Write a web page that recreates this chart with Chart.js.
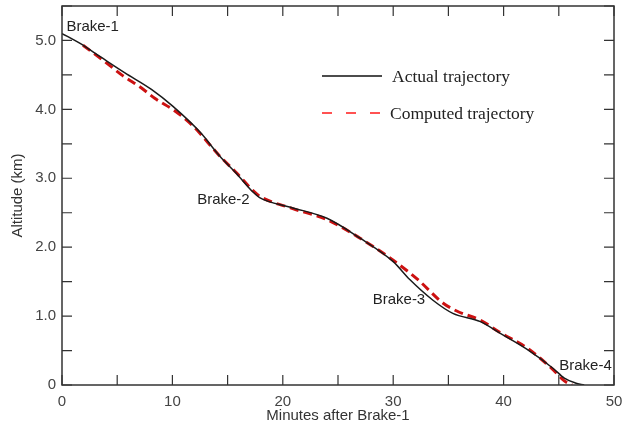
<!DOCTYPE html>
<html>
<head>
<meta charset="utf-8">
<script src="https://cdn.jsdelivr.net/npm/chart.js@4"></script>
<style>
body { margin: 0; background: #fff; }
</style>
</head>
<body>
<canvas id="chart1" width="639" height="430"></canvas>
<script>
// minutes after Brake-1 / altitude in km
var actualX = [0, 1.6, 3.5, 5.7, 8.1, 10, 12.5, 14.3, 15.8, 17.3, 17.9, 20.7, 24, 27, 30, 31.5, 33.6, 35.4, 37.9, 39.7, 42.1, 44.5, 45.5, 46.5, 47.3];
var actualY = [5.1, 4.96, 4.76, 4.53, 4.29, 4.05, 3.67, 3.32, 3.07, 2.80, 2.72, 2.58, 2.42, 2.13, 1.79, 1.53, 1.23, 1.04, 0.92, 0.75, 0.52, 0.24, 0.10, 0.03, 0];
var computedX = [1.9, 3.9, 5.5, 7.2, 8.4, 10.2, 11.8, 14.3, 15.8, 17.3, 17.9, 20.9, 24, 27, 30, 32.3, 34.5, 35.8, 37.9, 39.7, 42.1, 44.5, 45.5, 46.2];
var computedY = [4.93, 4.69, 4.49, 4.31, 4.16, 3.98, 3.77, 3.32, 3.08, 2.82, 2.74, 2.56, 2.40, 2.13, 1.81, 1.52, 1.19, 1.07, 0.94, 0.76, 0.54, 0.22, 0.06, 0];
var seriesNames = ["Actual trajectory", "Computed trajectory"];

// event labels: text, minutes, km, alignment
var brakeNames = ["Brake-1", "Brake-2", "Brake-3", "Brake-4"];
var brakeX = [0.4, 17.0, 32.9, 49.8];
var brakeY = [5.2, 2.69, 1.23, 0.28];
var brakeAlign = ["left", "right", "right", "right"];

function toPoints(xs, ys) {
	var pts = [];
	for (var i = 0; i < xs.length; i++) pts.push({x: xs[i], y: ys[i]});
	return pts;
}

var sansFont = "'Liberation Sans', Arial, sans-serif";
var serifFont = "'Liberation Serif', 'Times New Roman', serif";

function noPad(s) {
	s.paddingTop = 0; s.paddingBottom = 0;
	s.paddingLeft = 0; s.paddingRight = 0;
}

var framePlugin = {
	id: 'frame',
	afterDatasetsDraw: function(chart) {
		var ctx = chart.ctx;
		var a = chart.chartArea;
		var xs = chart.scales.x, ys = chart.scales.y;
		ctx.save();
		ctx.strokeStyle = '#333';
		ctx.lineWidth = 1.5;
		ctx.strokeRect(a.left, a.top, a.right - a.left, a.bottom - a.top);
		ctx.lineWidth = 1.2;
		ctx.beginPath();
		xs.ticks.forEach(function(t) {
			var px = xs.getPixelForValue(t.value);
			ctx.moveTo(px, a.bottom); ctx.lineTo(px, a.bottom - 10);
			ctx.moveTo(px, a.top); ctx.lineTo(px, a.top + 10);
		});
		ys.ticks.forEach(function(t) {
			var py = ys.getPixelForValue(t.value);
			ctx.moveTo(a.left, py); ctx.lineTo(a.left + 10, py);
			ctx.moveTo(a.right, py); ctx.lineTo(a.right - 10, py);
		});
		ctx.stroke();

		// brake labels
		ctx.fillStyle = '#222';
		ctx.font = '15px ' + sansFont;
		ctx.textBaseline = 'middle';
		for (var i = 0; i < brakeNames.length; i++) {
			ctx.textAlign = brakeAlign[i];
			ctx.fillText(brakeNames[i], xs.getPixelForValue(brakeX[i]), ys.getPixelForValue(brakeY[i]));
		}

		// legend
		var lx = a.left + 260, ly = a.top + 70;
		chart.data.datasets.forEach(function(ds, i) {
			var y = ly + i * 37;
			ctx.beginPath();
			ctx.lineWidth = 1.5;
			ctx.strokeStyle = i === 0 ? '#111' : '#ff1a1a';
			ctx.setLineDash(i === 0 ? [] : [10, 14]);
			ctx.moveTo(lx, y); ctx.lineTo(lx + 60, y);
			ctx.stroke();
			ctx.setLineDash([]);
			ctx.fillStyle = '#222';
			ctx.textAlign = 'left';
			ctx.font = '17.5px ' + serifFont;
			ctx.fillText(ds.label, lx + (i === 0 ? 70 : 68), y + 1);
		});
		ctx.restore();
	}
};

var ctx = document.getElementById("chart1").getContext("2d");
new Chart(ctx, {
	type: 'line',
	data: {
		datasets: [{
			label: seriesNames[0],
			data: toPoints(actualX, actualY),
			borderColor: '#1a1a1a',
			borderWidth: 1.5,
			pointRadius: 0,
			cubicInterpolationMode: 'monotone'
		}, {
			label: seriesNames[1],
			data: toPoints(computedX, computedY),
			borderColor: '#cc1111',
			borderWidth: 3,
			borderDash: [9, 5],
			pointRadius: 0,
			cubicInterpolationMode: 'monotone'
		}]
	},
	options: {
		responsive: false,
		animation: false,
		events: [],
		layout: {padding: {left: 0, right: 25, top: 6, bottom: 0}},
		plugins: {legend: {display: false}, tooltip: {enabled: false}},
		scales: {
			x: {
				type: 'linear',
				min: 0, max: 50,
				afterFit: function(s) { s.height = 45; noPad(s); },
				grid: {display: false, drawTicks: false},
				border: {display: false},
				ticks: {
					stepSize: 5,
					autoSkip: false,
					maxRotation: 0,
					padding: 8,
					color: '#444',
					font: {family: sansFont, size: 15},
					callback: function(v) { return v % 10 === 0 ? String(v) : ''; }
				},
				title: {
					display: true,
					text: 'Minutes after Brake-1',
					color: '#333',
					font: {family: sansFont, size: 15},
					padding: {top: 0, bottom: 5}
				}
			},
			y: {
				min: 0, max: 5.5,
				afterFit: function(s) { s.width = 62; noPad(s); },
				grid: {display: false, drawTicks: false},
				border: {display: false},
				ticks: {
					stepSize: 0.5,
					autoSkip: false,
					padding: 6,
					color: '#444',
					font: {family: sansFont, size: 15},
					callback: function(v) {
						if (v === 0) return '0';
						return Math.abs(v % 1) < 1e-9 ? v.toFixed(1) : '';
					}
				},
				title: {
					display: true,
					text: 'Altitude (km)',
					color: '#333',
					font: {family: sansFont, size: 15},
					padding: {top: 9, bottom: 0}
				}
			}
		}
	},
	plugins: [framePlugin]
});
</script>
</body>
</html>
